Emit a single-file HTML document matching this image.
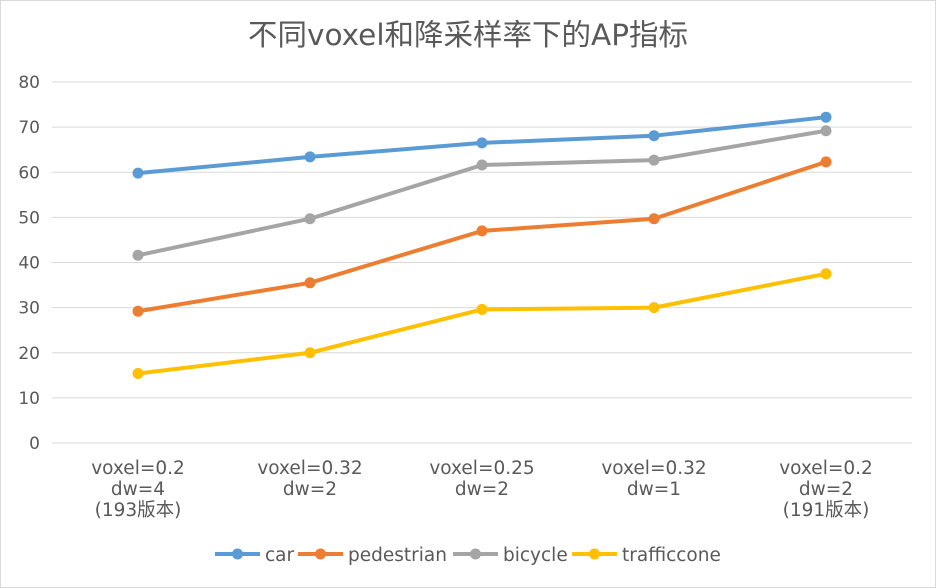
<!DOCTYPE html>
<html><head><meta charset="utf-8"><style>
body{margin:0;background:#fff;}
svg{display:block;font-family:"DejaVu Sans","Liberation Sans","Noto Sans CJK SC",sans-serif;}
</style></head><body>
<svg id="chart" width="936" height="588"></svg>
<script>
const categories=[["voxel=0.2","dw=4","(193版本)"],["voxel=0.32","dw=2"],["voxel=0.25","dw=2"],["voxel=0.32","dw=1"],["voxel=0.2","dw=2","(191版本)"]];
const seriesNames=["car","pedestrian","bicycle","trafficcone"];
const seriesColors=["#5b9bd5","#ed7d31","#a5a5a5","#ffc000"];
const carValues=[59.8,63.4,66.5,68.1,72.2];
const pedestrianValues=[29.2,35.5,47.0,49.7,62.3];
const bicycleValues=[41.6,49.7,61.6,62.7,69.2];
const trafficconeValues=[15.4,20.0,29.6,30.0,37.5];
const yTicks=[0,10,20,30,40,50,60,70,80];
const NS="http://www.w3.org/2000/svg";
const svg=document.getElementById('chart');
function mk(t,a,p){const e=document.createElementNS(NS,t);for(const k in a)e.setAttribute(k,a[k]);(p||svg).appendChild(e);return e;}
const x0=52,x1=912,y0=443,y1=82;
const xs=i=>x0+(x1-x0)/categories.length*(i+0.5);
const ys=v=>y0-(v/80)*(y0-y1);
const border=mk('rect',{x:0.5,y:0.5,width:935,height:587,fill:'#fff',stroke:'#d9d9d9'});


const title=mk('text',{x:468,y:45,'text-anchor':'middle','font-size':29.5,fill:'#595959'});
title.textContent='不同voxel和降采样率下的AP指标';


yTicks.forEach(t=>{
 const g=mk('line',{x1:x0,x2:x1,y1:ys(t),y2:ys(t),stroke:'#d9d9d9','stroke-width':1});
 
 
 const l=mk('text',{x:40,y:ys(t)+6,'text-anchor':'end','font-size':17,fill:'#595959'});
 l.textContent=t;
 
 
});
categories.forEach((c,i)=>{
 c.forEach((s,j)=>{
  const l=mk('text',{x:xs(i),y:474+j*21,'text-anchor':'middle','font-size':18.5,fill:'#595959'});
  l.textContent=s;
  
  
 });
});
const allValues=[carValues,pedestrianValues,bicycleValues,trafficconeValues];
allValues.forEach((vals,si)=>{
 const pts=vals.map((v,i)=>xs(i)+','+ys(v)).join(' ');
 const pl=mk('polyline',{points:pts,fill:'none',stroke:seriesColors[si],'stroke-width':4,'stroke-linejoin':'round','stroke-linecap':'round'});
 
 
 vals.forEach((v,i)=>{
  const c=mk('circle',{cx:xs(i),cy:ys(v),r:5.5,fill:seriesColors[si]});
  
  
 });
});
const legX=[215,298,453,572];
seriesNames.forEach((n,i)=>{
 const g=mk('g',{});
 
 
 mk('line',{x1:legX[i],x2:legX[i]+45,y1:554,y2:554,stroke:seriesColors[i],'stroke-width':4},g);
 mk('circle',{cx:legX[i]+22.5,cy:554,r:5.5,fill:seriesColors[i]},g);
 const t=mk('text',{x:legX[i]+50,y:561,'font-size':18.5,fill:'#595959'},g);
 t.textContent=n;
});
</script>
</body></html>
